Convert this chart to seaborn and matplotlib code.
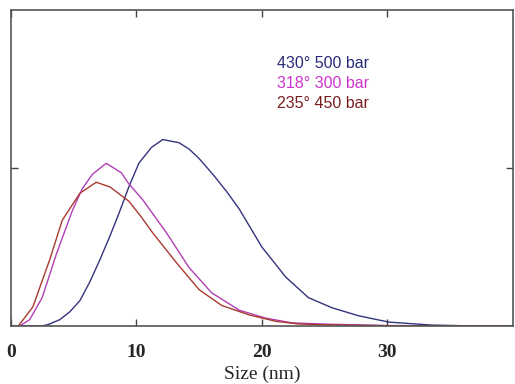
import pandas as pd
import matplotlib
import matplotlib.pyplot as plt
import seaborn as sns

matplotlib.use('Agg')

# Size distribution curves
blue_x = [0, 2.5, 3.0, 3.9, 4.7, 5.5, 6.3, 7.1, 7.9, 8.65, 9.4, 10.2, 11.2, 12.1, 13.4, 14.2, 15.0, 16.2, 17.2, 18.2, 19.1, 20.0, 21.9, 23.7, 25.6, 27.7, 30.1, 33.5, 36, 40]
blue_y = [0, 0, 0.01, 0.04, 0.09, 0.16, 0.28, 0.42, 0.57, 0.72, 0.88, 1.03, 1.13, 1.18, 1.16, 1.12, 1.06, 0.95, 0.85, 0.74, 0.62, 0.50, 0.31, 0.18, 0.115, 0.065, 0.025, 0.006, 0.002, 0]

magenta_x = [0.7, 1.5, 2.5, 3.65, 4.9, 5.7, 6.5, 7.6, 8.8, 9.4, 10.5, 11.4, 12.4, 13.3, 14.2, 16.0, 18.2, 20.3, 22.4, 25, 27.3, 30, 40]
magenta_y = [0, 0.04, 0.18, 0.46, 0.73, 0.87, 0.96, 1.03, 0.97, 0.90, 0.80, 0.70, 0.59, 0.48, 0.37, 0.21, 0.10, 0.05, 0.02, 0.012, 0.008, 0.003, 0]

red_x = [0.6, 1.75, 3.1, 4.1, 5.5, 6.8, 7.9, 9.4, 10.3, 11.3, 12.3, 13.2, 15.0, 16.8, 19.0, 21.1, 22.9, 25, 27, 30, 40]
red_y = [0, 0.12, 0.42, 0.67, 0.84, 0.91, 0.88, 0.79, 0.70, 0.59, 0.49, 0.40, 0.23, 0.13, 0.07, 0.03, 0.013, 0.008, 0.005, 0.002, 0]

labels = ['430° 500 bar', '318° 300 bar', '235° 450 bar']
line_colors = ['#33337f', '#b13fb5', '#a83a2e']
text_colors = ['#2a2a78', '#cc33cc', '#7a1e1e']

x_ticks = [0, 10, 20, 30]

sns.set_style('white')

fig = plt.figure(figsize=(5.15, 3.84), dpi=100)
ax = fig.add_axes([0.021, 0.151, 0.975, 0.823])

for xs, ys, c in zip([blue_x, magenta_x, red_x], [blue_y, magenta_y, red_y], line_colors):
    sns.lineplot(x=xs, y=ys, color=c, linewidth=1.0, ax=ax)

ax.set_xlim(0, 40)
ax.set_ylim(0, 2)
ax.set_xticks(x_ticks)
ax.set_xticklabels([str(t) for t in x_ticks], fontfamily='Liberation Serif',
                   fontweight='bold', fontsize=14)
ax.set_yticks([1])
ax.set_yticklabels([])
ax.tick_params(direction='in', length=5, width=1, color='#444444',
               top=True, right=True, bottom=True, left=True, pad=13)
for s in ax.spines.values():
    s.set_color('#555555')
    s.set_linewidth(1.2)

ax.set_xlabel('Size (nm)', fontfamily='Liberation Serif', fontsize=14, labelpad=3)
ax.set_ylabel('')

# Legend-like text block
for i, (lab, c) in enumerate(zip(labels, text_colors)):
    ax.text(21.2, 1.66 - i * 0.125, lab, color=c, fontsize=11.5,
            fontfamily='Liberation Sans', va='center', ha='left')

plt.savefig('out.png', dpi=100)
plt.close()
